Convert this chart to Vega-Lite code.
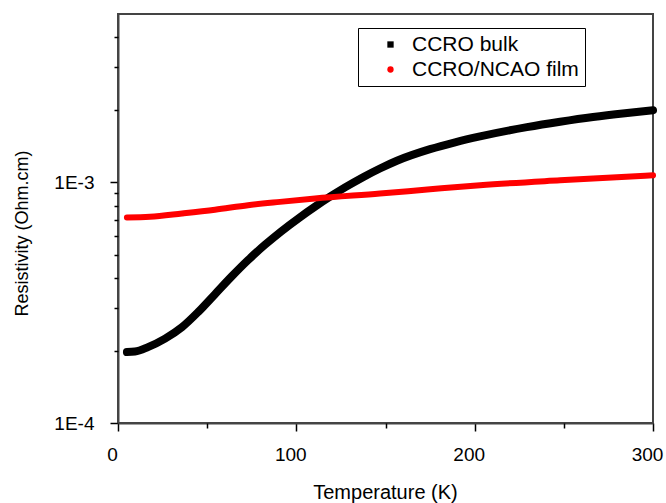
{
  "$schema": "https://vega.github.io/schema/vega-lite/v6.json",
  "width": 535,
  "height": 409,
  "autosize": {"type": "none"},
  "padding": {"left": 118, "top": 14, "right": 13, "bottom": 80},
  "background": "white",
  "config": {
    "view": {"stroke": "#444", "strokeWidth": 2},
    "font": "Liberation Sans",
    "axis": {
      "grid": false,
      "domainColor": "#444",
      "domainWidth": 2,
      "tickColor": "black",
      "tickWidth": 1.5,
      "labelFont": "Liberation Sans",
      "titleFont": "Liberation Sans",
      "labelColor": "black",
      "titleColor": "black",
      "titleFontWeight": "normal",
      "labelFontSize": 19,
      "titleFontSize": 18
    }
  },
  "data": {
    "values": [
      {"series": "CCRO bulk", "T": 5, "rho": 0.000197},
      {"series": "CCRO bulk", "T": 9.5, "rho": 0.000198},
      {"series": "CCRO bulk", "T": 16.8, "rho": 0.0002067},
      {"series": "CCRO bulk", "T": 26.4, "rho": 0.0002242},
      {"series": "CCRO bulk", "T": 35.9, "rho": 0.0002502},
      {"series": "CCRO bulk", "T": 44.9, "rho": 0.0002888},
      {"series": "CCRO bulk", "T": 54.4, "rho": 0.000343},
      {"series": "CCRO bulk", "T": 63.9, "rho": 0.0004074},
      {"series": "CCRO bulk", "T": 72.9, "rho": 0.0004748},
      {"series": "CCRO bulk", "T": 82.4, "rho": 0.0005497},
      {"series": "CCRO bulk", "T": 91.4, "rho": 0.0006241},
      {"series": "CCRO bulk", "T": 102.1, "rho": 0.0007163},
      {"series": "CCRO bulk", "T": 110.5, "rho": 0.000792},
      {"series": "CCRO bulk", "T": 118.9, "rho": 0.000871},
      {"series": "CCRO bulk", "T": 127.3, "rho": 0.0009519},
      {"series": "CCRO bulk", "T": 137.4, "rho": 0.00105},
      {"series": "CCRO bulk", "T": 146.9, "rho": 0.001141},
      {"series": "CCRO bulk", "T": 156.4, "rho": 0.001229},
      {"series": "CCRO bulk", "T": 175.0, "rho": 0.001373},
      {"series": "CCRO bulk", "T": 189.0, "rho": 0.001466},
      {"series": "CCRO bulk", "T": 203.0, "rho": 0.001551},
      {"series": "CCRO bulk", "T": 229.3, "rho": 0.001694},
      {"series": "CCRO bulk", "T": 247.9, "rho": 0.001784},
      {"series": "CCRO bulk", "T": 266.4, "rho": 0.001867},
      {"series": "CCRO bulk", "T": 284.3, "rho": 0.001936},
      {"series": "CCRO bulk", "T": 300, "rho": 0.001991},
      {"series": "CCRO/NCAO film", "T": 5, "rho": 0.000714},
      {"series": "CCRO/NCAO film", "T": 17.9, "rho": 0.000719},
      {"series": "CCRO/NCAO film", "T": 35.9, "rho": 0.000742},
      {"series": "CCRO/NCAO film", "T": 54.4, "rho": 0.000769},
      {"series": "CCRO/NCAO film", "T": 72.9, "rho": 0.000803},
      {"series": "CCRO/NCAO film", "T": 90.8, "rho": 0.000829},
      {"series": "CCRO/NCAO film", "T": 110.5, "rho": 0.000856},
      {"series": "CCRO/NCAO film", "T": 146.9, "rho": 0.000898},
      {"series": "CCRO/NCAO film", "T": 175, "rho": 0.000935},
      {"series": "CCRO/NCAO film", "T": 203, "rho": 0.000972},
      {"series": "CCRO/NCAO film", "T": 247.9, "rho": 0.001019},
      {"series": "CCRO/NCAO film", "T": 300, "rho": 0.001069}
    ]
  },
  "layer": [
    {
      "transform": [{"filter": "datum.series === 'CCRO bulk'"}],
      "mark": {"type": "line", "strokeWidth": 8, "interpolate": "monotone", "strokeCap": "round"},
      "encoding": {
        "x": {
          "field": "T", "type": "quantitative",
          "scale": {"domain": [0, 300], "nice": false},
          "axis": {
            "values": [0, 100, 200, 300], "tickSize": 8, "labelPadding": 14,
            "labelFlush": false, "labelOffset": -6,
            "title": "Temperature (K)", "titleX": 267, "titleY": 75,
            "titleFontSize": 20,
            "titleBaseline": "alphabetic", "titleAlign": "center"
          }
        },
        "y": {
          "field": "rho", "type": "quantitative",
          "scale": {"type": "log", "domain": [0.0001, 0.005], "nice": false},
          "axis": {
            "values": [0.0001, 0.001],
            "labelExpr": "'1E' + round(log(datum.value) / LN10)",
            "tickSize": 8, "labelPadding": 16, "labelFlush": false,
            "title": "Resistivity (Ohm.cm)", "titleX": -91, "titleY": 219,
            "titleBaseline": "alphabetic", "titleAlign": "center", "titleAngle": -90
          }
        },
        "color": {
          "field": "series", "type": "nominal",
          "scale": {"domain": ["CCRO bulk", "CCRO/NCAO film"], "range": ["black", "red"]},
          "legend": {
            "orient": "none", "legendX": 240, "legendY": 14,
            "title": null,
            "strokeColor": "black", "fillColor": "white", "padding": 6,
            "labelFont": "Liberation Sans", "labelFontSize": 21, "labelColor": "black",
            "labelLimit": 400,
            "symbolType": "square", "symbolSize": 40, "symbolOffset": 16,
            "labelOffset": 11, "rowPadding": 3,
            "encode": {
              "symbols": {
                "update": {
                  "shape": {"signal": "datum.value === 'CCRO bulk' ? 'square' : 'circle'"},
                  "fill": {"signal": "datum.value === 'CCRO bulk' ? 'black' : 'red'"},
                  "stroke": {"value": "transparent"},
                  "strokeWidth": {"value": 0},
                  "size": {"value": 40}
                }
              }
            }
          }
        }
      }
    },
    {
      "transform": [{"filter": "datum.series === 'CCRO/NCAO film'"}],
      "mark": {"type": "line", "strokeWidth": 6, "interpolate": "monotone", "strokeCap": "round"},
      "encoding": {
        "x": {
          "field": "T", "type": "quantitative",
          "axis": {
            "orient": "bottom", "values": [50, 150, 250], "tickSize": 5,
            "labels": false, "domain": false, "title": null
          }
        },
        "y": {
          "field": "rho", "type": "quantitative",
          "axis": {
            "orient": "left",
            "values": [0.0002, 0.0003, 0.0004, 0.0005, 0.0006, 0.0007, 0.0008, 0.0009, 0.002, 0.003, 0.004],
            "tickSize": 4, "labels": false, "domain": false, "title": null
          }
        },
        "color": {"field": "series", "type": "nominal"}
      }
    }
  ],
  "resolve": {"axis": {"x": "independent", "y": "independent"}}
}
